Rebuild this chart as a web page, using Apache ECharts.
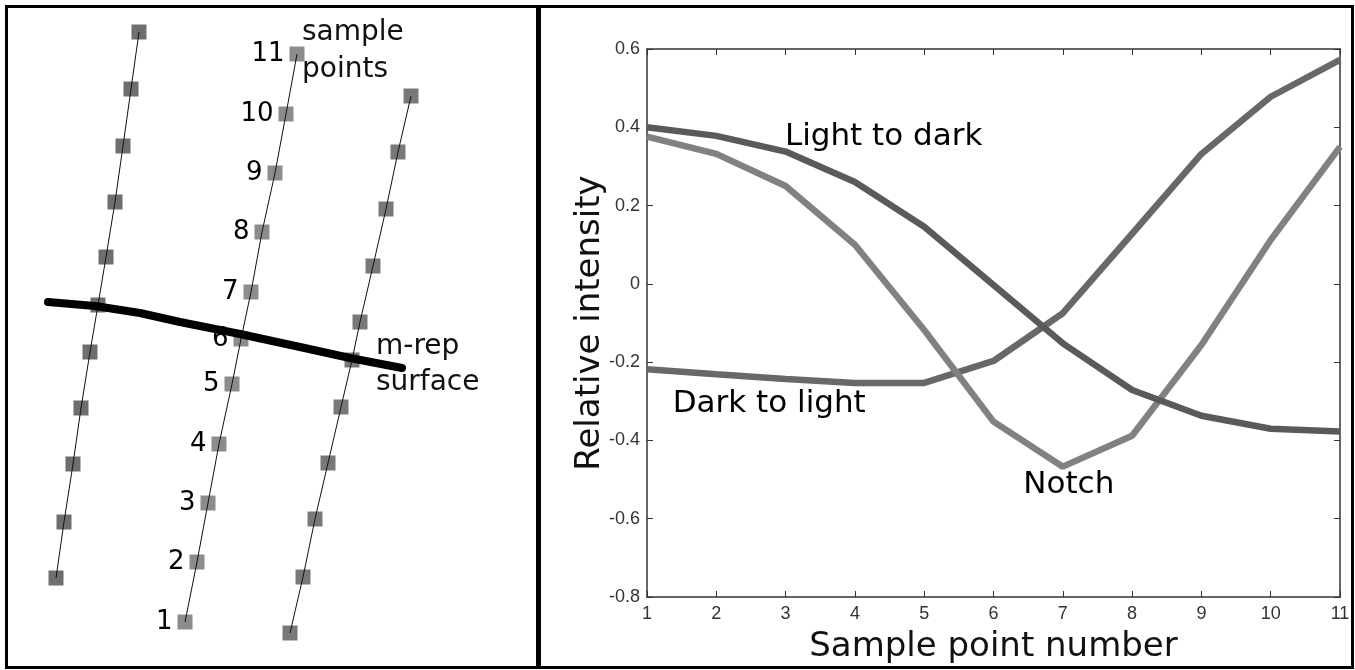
<!DOCTYPE html>
<html>
<head>
<meta charset="utf-8">
<script src="https://cdn.jsdelivr.net/npm/echarts@6/dist/echarts.min.js"></script>
<style>
  html, body { margin: 0; padding: 0; background: #fff; }
  #chart { width: 1355px; height: 670px; }
</style>
</head>
<body>
<div id="chart"></div>
<script>
// right panel: intensity profiles along the sample points
const samplePoints = [1, 2, 3, 4, 5, 6, 7, 8, 9, 10, 11]
const lightToDark = [0.40, 0.378, 0.338, 0.26, 0.146, -0.003, -0.152, -0.271, -0.337, -0.370, -0.377]
const darkToLight = [-0.218, -0.231, -0.243, -0.253, -0.253, -0.197, -0.075, 0.128, 0.332, 0.478, 0.572]
const notch = [0.376, 0.332, 0.25, 0.10, -0.118, -0.352, -0.467, -0.388, -0.156, 0.112, 0.35]

// left panel: diagram, coordinates in panel pixels (y grows downward)
const colAx = [56, 64, 73, 81, 90, 98, 106, 115, 123, 131, 139]
const colAy = [578, 522, 464, 408, 352, 305, 257, 202, 146, 89, 32]
const colBx = [185, 197, 208, 219, 232, 241, 251, 262, 275, 286, 297]
const colBy = [622, 562, 503, 444, 384, 339, 292, 232, 173, 114, 54]
const colCx = [290, 303, 315, 328, 341, 352, 360, 373, 386, 398, 411]
const colCy = [633, 577, 519, 463, 407, 360, 322, 266, 209, 152, 96]
const surfaceX = [48, 95, 140, 180, 240, 300, 350, 402]
const surfaceY = [302, 306, 313, 322, 334, 347, 358, 368]

const font = 'DejaVu Sans'
const zip = (xs, ys) => xs.map((x, i) => [x, ys[i]])

const chart = echarts.init(document.getElementById('chart'))

// square markers + thin line through them
const column = (xs, ys, color, withLabels) => [
  {
    type: 'scatter',
    xAxisIndex: 2,
    yAxisIndex: 2,
    data: zip(xs, ys),
    symbol: 'rect',
    symbolSize: 15,
    itemStyle: { color, opacity: 1 },
    z: 2,
    silent: true,
    label: withLabels
      ? {
          show: true,
          position: 'left',
          distance: 5,
          formatter: (p) => String(p.dataIndex + 1),
          fontFamily: font,
          fontSize: 26,
          color: '#000',
        }
      : { show: false },
  },
  {
    type: 'line',
    xAxisIndex: 2,
    yAxisIndex: 2,
    data: zip(xs, ys),
    showSymbol: false,
    lineStyle: { color: '#111', width: 1 },
    z: 3,
    silent: true,
  },
]

const profile = (name, data, color, text, coord) => ({
  type: 'line',
  name,
  data: zip(samplePoints, data),
  showSymbol: false,
  lineStyle: { color, width: 6.5 },
  z: 3,
  markPoint: {
    symbol: 'circle',
    symbolSize: 0,
    silent: true,
    label: {
      show: true,
      position: 'right',
      distance: 0,
      formatter: text,
      fontFamily: font,
      fontSize: 31,
      color: '#000',
    },
    data: [{ coord }],
  },
})

const tickStyle = { fontFamily: 'Liberation Sans', fontSize: 18, color: '#333' }
const lineCol = '#333'
const frameAxis = { onZero: false, lineStyle: { color: lineCol, width: 1.5 } }
const inTicks = { show: true, inside: true, length: 6, lineStyle: { color: lineCol } }

const option = {
  backgroundColor: '#fff',
  animation: false,
  grid: [
    { left: 647, top: 49, right: 15, bottom: 73, outerBoundsMode: 'none', containLabel: false },
    { left: 0, top: 0, width: 538, height: 670, outerBoundsMode: 'none' },
  ],
  xAxis: [
    {
      type: 'value',
      gridIndex: 0,
      min: 1,
      max: 11,
      interval: 1,
      name: 'Sample point number',
      nameLocation: 'middle',
      nameGap: 33,
      nameMoveOverlap: false,
      nameTextStyle: { fontFamily: font, fontSize: 34, color: '#111' },
      axisLine: frameAxis,
      axisTick: inTicks,
      axisLabel: { margin: 8, ...tickStyle },
      splitLine: { show: false },
    },
    {
      type: 'value',
      gridIndex: 0,
      position: 'top',
      min: 1,
      max: 11,
      interval: 1,
      axisLine: frameAxis,
      axisTick: inTicks,
      axisLabel: { show: false },
      splitLine: { show: false },
    },
    { type: 'value', gridIndex: 1, min: 0, max: 538, show: false },
  ],
  yAxis: [
    {
      type: 'value',
      gridIndex: 0,
      min: -0.8,
      max: 0.6,
      interval: 0.2,
      name: 'Relative intensity',
      nameLocation: 'middle',
      nameRotate: 90,
      nameGap: 40,
      nameMoveOverlap: false,
      nameTextStyle: { fontFamily: font, fontSize: 34, color: '#111' },
      axisLine: { show: true, ...frameAxis },
      axisTick: inTicks,
      axisLabel: { margin: 7, ...tickStyle },
      splitLine: { show: false },
    },
    {
      type: 'value',
      gridIndex: 0,
      position: 'right',
      min: -0.8,
      max: 0.6,
      interval: 0.2,
      axisLine: { show: true, ...frameAxis },
      axisTick: inTicks,
      axisLabel: { show: false },
      splitLine: { show: false },
    },
    { type: 'value', gridIndex: 1, min: 0, max: 670, inverse: true, show: false },
  ],
  series: [
    profile('Dark to light', darkToLight, '#686868', 'Dark to light', [1.37, -0.306]),
    profile('Notch', notch, '#818181', 'Notch', [6.43, -0.515]),
    profile('Light to dark', lightToDark, '#5a5a5a', 'Light to dark', [2.99, 0.375]),
    ...column(colAx, colAy, '#6e6e6e', false),
    ...column(colBx, colBy, '#8c8c8c', true),
    ...column(colCx, colCy, '#787878', false),
    {
      type: 'line',
      xAxisIndex: 2,
      yAxisIndex: 2,
      data: zip(surfaceX, surfaceY),
      showSymbol: false,
      lineStyle: { color: '#000', width: 8, cap: 'round' },
      z: 4,
      silent: true,
    },
  ],
  graphic: [
    {
      type: 'rect',
      shape: { x: 6.5, y: 6.5, width: 1346, height: 661 },
      style: { fill: 'none', stroke: '#000', lineWidth: 3 },
    },
    {
      type: 'line',
      shape: { x1: 538.5, y1: 6, x2: 538.5, y2: 668 },
      style: { stroke: '#000', lineWidth: 5 },
    },
    { type: 'text', x: 302, y: 33, style: { text: 'sample', font: '28px "DejaVu Sans"', fill: '#111', textVerticalAlign: 'middle' } },
    { type: 'text', x: 302, y: 70, style: { text: 'points', font: '28px "DejaVu Sans"', fill: '#111', textVerticalAlign: 'middle' } },
    { type: 'text', x: 376, y: 347, style: { text: 'm-rep', font: '28px "DejaVu Sans"', fill: '#111', textVerticalAlign: 'middle' } },
    { type: 'text', x: 376, y: 383, style: { text: 'surface', font: '28px "DejaVu Sans"', fill: '#111', textVerticalAlign: 'middle' } },
  ],
}

chart.setOption(option)
</script>
</body>
</html>
